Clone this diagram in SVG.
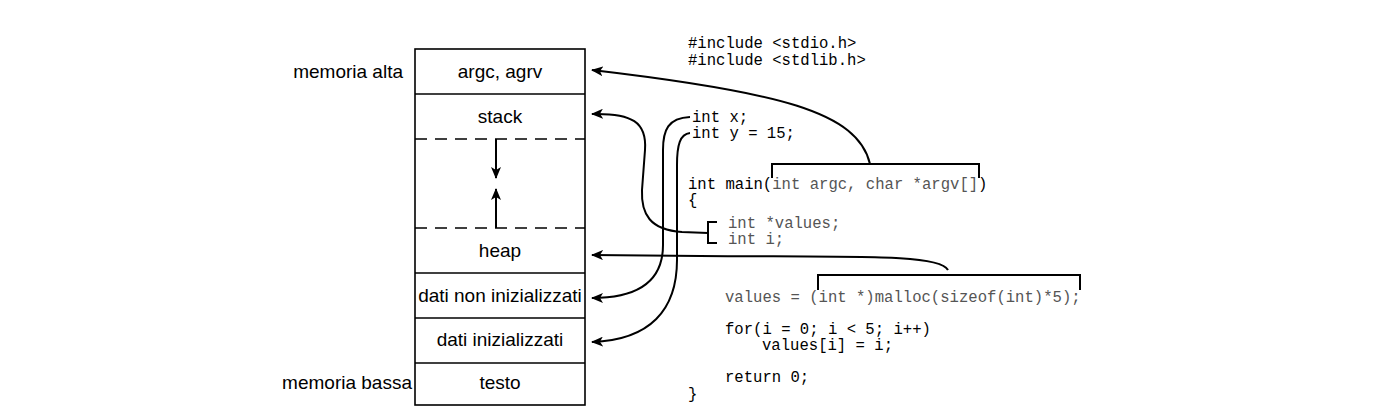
<svg xmlns="http://www.w3.org/2000/svg" width="1376" height="411" viewBox="0 0 1376 411">
<style>
.lbl{font-family:"Liberation Sans",Arial,sans-serif;font-size:19px;fill:#000}
.code{font-family:"Liberation Mono","Courier New",monospace;font-size:15.6px;fill:#000}
.g{fill:#555}
.box{fill:#fff;stroke:#000;stroke-width:1.6}
.dash{stroke:#000;stroke-width:1.6;stroke-dasharray:12,8;fill:none}
.con{fill:none;stroke:#000;stroke-width:2}
.br{fill:none;stroke:#000;stroke-width:2}
</style>
<defs>
<marker id="ah" viewBox="0 0 12 10" refX="11" refY="5" markerWidth="12" markerHeight="10" markerUnits="userSpaceOnUse" orient="auto">
<path d="M0,0 L12,5 L0,10 L3,5 z" fill="#000"/>
</marker>
</defs>
<rect width="1376" height="411" fill="#fff"/>
<g id="memory">
<rect class="box" x="415" y="49" width="170" height="356"/>
<line x1="415" y1="94" x2="585" y2="94" stroke="#000" stroke-width="1.6"/>
<line class="dash" x1="415" y1="139" x2="585" y2="139"/>
<line class="dash" x1="415" y1="228" x2="585" y2="228"/>
<line x1="415" y1="273" x2="585" y2="273" stroke="#000" stroke-width="1.6"/>
<line x1="415" y1="318" x2="585" y2="318" stroke="#000" stroke-width="1.6"/>
<line x1="415" y1="363" x2="585" y2="363" stroke="#000" stroke-width="1.6"/>
<line class="con" x1="496" y1="139" x2="496" y2="178" marker-end="url(#ah)"/>
<line class="con" x1="496" y1="228" x2="496" y2="189" marker-end="url(#ah)"/>
</g>
<g id="labels">
<text class="lbl" x="500" y="78" text-anchor="middle">argc, agrv</text>
<text class="lbl" x="500" y="123" text-anchor="middle">stack</text>
<text class="lbl" x="500" y="257" text-anchor="middle">heap</text>
<text class="lbl" x="500" y="302" text-anchor="middle">dati non inizializzati</text>
<text class="lbl" x="500" y="346" text-anchor="middle">dati inizializzati</text>
<text class="lbl" x="500" y="389" text-anchor="middle">testo</text>
<text class="lbl" x="403" y="78" text-anchor="end">memoria alta</text>
<text class="lbl" x="412" y="389" text-anchor="end">memoria bassa</text>
</g>
<g id="code">
<text class="code" x="688" y="48">#include &lt;stdio.h&gt;</text>
<text class="code" x="688" y="65">#include &lt;stdlib.h&gt;</text>
<text class="code" x="692" y="122">int x;</text>
<text class="code" x="692" y="138">int y = 15;</text>
<text class="code" x="688" y="189">int main(<tspan class="g">int argc, char *argv[]</tspan>)</text>
<text class="code" x="688" y="205">{</text>
<text class="code g" x="728" y="228">int *values;</text>
<text class="code g" x="728" y="244">int i;</text>
<text class="code g" x="725" y="302">values = (int *)malloc(sizeof(int)*5);</text>
<text class="code" x="725" y="334">for(i = 0; i &lt; 5; i++)</text>
<text class="code" x="762" y="350">values[i] = i;</text>
<text class="code" x="725" y="382">return 0;</text>
<text class="code" x="688" y="399">}</text>
</g>
<g id="brackets">
<path class="br" d="M772,178 L772,164 L979,164 L979,178"/>
<path class="br" d="M818,290 L818,275 L1080,275 L1080,290"/>
<path class="br" d="M717,222 L708,222 L708,243 L717,243"/>
</g>
<g id="connectors">
<path class="con" d="M870,164 C858,112 780,92 592,70" marker-end="url(#ah)"/>
<path class="con" d="M708,233 L682,232 C650,230 641,214 642,190 L645,150 C647,122 632,113 592,114" marker-end="url(#ah)"/>
<path class="con" d="M690,117 C668,118 663,130 663,150 L663,245 C663,280 640,298 592,298" marker-end="url(#ah)"/>
<path class="con" d="M690,133 C680,134 677,145 677,165 L677,260 C677,310 650,340 592,342" marker-end="url(#ah)"/>
<path class="con" d="M948,270 C940,254 860,257 700,256 L592,255" marker-end="url(#ah)"/>
</g>
</svg>
